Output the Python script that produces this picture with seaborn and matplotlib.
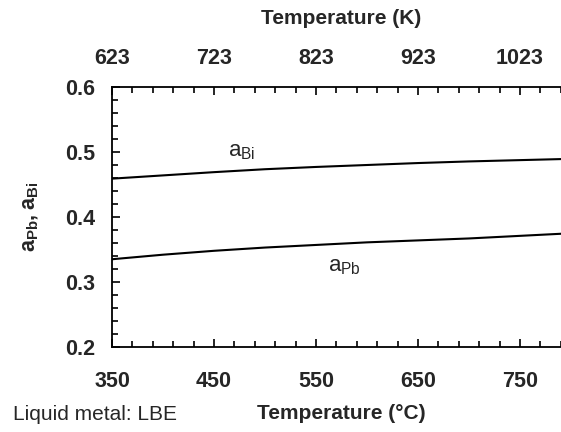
import matplotlib
matplotlib.use("Agg")
import matplotlib.pyplot as plt
from matplotlib.ticker import FixedLocator, MultipleLocator
import numpy as np
import pandas as pd
import seaborn as sns

# Activities of Pb and Bi in liquid LBE versus temperature
temp_c = [350, 400, 450, 500, 550, 600, 650, 700, 750, 800]
a_bi = [0.459, 0.464, 0.469, 0.4735, 0.477, 0.480, 0.483, 0.4855, 0.4875, 0.4895]
a_pb = [0.335, 0.342, 0.348, 0.353, 0.357, 0.361, 0.364, 0.367, 0.371, 0.375]

celsius_ticks = [350, 450, 550, 650, 750]
kelvin_ticks = [623, 723, 823, 923, 1023]
y_ticks = [0.2, 0.3, 0.4, 0.5, 0.6]

df = pd.DataFrame({
    "T": temp_c * 2,
    "a": a_bi + a_pb,
    "species": ["Bi"] * len(temp_c) + ["Pb"] * len(temp_c),
})

sns.set_style("ticks")
plt.rcParams["font.family"] = ["Liberation Sans", "DejaVu Sans"]
plt.rcParams["mathtext.fontset"] = "custom"
plt.rcParams["mathtext.rm"] = "Liberation Sans"

fig = plt.figure(figsize=(5.61, 4.32), dpi=100)
ax = fig.add_axes([112 / 561, 85 / 432, 459 / 561, 260 / 432])

sns.lineplot(data=df, x="T", y="a", units="species", estimator=None,
             color="black", linewidth=1.5, legend=False, ax=ax)

ax.set_xlim(350, 800)
ax.set_ylim(0.2, 0.6)

for side in ["left", "bottom", "top"]:
    ax.spines[side].set_visible(True)
    ax.spines[side].set_color("black")
    ax.spines[side].set_linewidth(1.3)
ax.spines["right"].set_visible(False)

# minor ticks every 20 degrees, counted from the first major tick
ax.xaxis.set_major_locator(FixedLocator(celsius_ticks))
ax.xaxis.set_minor_locator(FixedLocator(list(np.arange(350, 801, 20))))
ax.yaxis.set_major_locator(FixedLocator(y_ticks))
ax.yaxis.set_minor_locator(MultipleLocator(0.02))
ax.set_yticklabels([f"{v:.1f}" for v in y_ticks])

ax.tick_params(axis="both", which="both", direction="in", color="black", width=1.2)
ax.tick_params(axis="both", which="major", length=6)
ax.tick_params(axis="both", which="minor", length=4)
ax.tick_params(axis="x", which="major", pad=17)
ax.tick_params(axis="y", which="major", pad=12)
for lab in ax.get_xticklabels() + ax.get_yticklabels():
    lab.set_fontsize(15.5)
    lab.set_fontweight("bold")

# Kelvin scale on the top axis
top = ax.secondary_xaxis("top", functions=(lambda c: c + 273.0, lambda k: k - 273.0))
top.xaxis.set_major_locator(FixedLocator(kelvin_ticks))
top.xaxis.set_minor_locator(FixedLocator(list(np.arange(623, 1100, 20))))
top.tick_params(axis="x", which="both", direction="in", color="black", width=1.2)
top.tick_params(axis="x", which="major", length=6, pad=13)
top.tick_params(axis="x", which="minor", length=4)
top.spines["top"].set_visible(False)
for lab in top.get_xticklabels():
    lab.set_fontsize(15.5)
    lab.set_fontweight("bold")

ax.set_xlabel("Temperature (°C)", fontsize=15, fontweight="bold", va="center")
ax.xaxis.set_label_coords(0.5, -0.254)
top.set_xlabel("Temperature (K)", fontsize=15, fontweight="bold", va="center")
top.xaxis.set_label_coords(0.5, 1.262, transform=ax.transAxes)
ax.set_ylabel(r"$\mathregular{a_{Pb}, a_{Bi}}$", fontsize=15.5, fontweight="bold", va="center")
ax.yaxis.set_label_coords(-0.178, 0.5)

ax.text(464, 0.493, r"$\mathregular{a_{Bi}}$", fontsize=16, ha="left", va="baseline")
ax.text(562, 0.316, r"$\mathregular{a_{Pb}}$", fontsize=16, ha="left", va="baseline")

fig.text(13 / 561, 1 - 415 / 432, "Liquid metal: LBE", fontsize=15, ha="left", va="center")

fig.savefig("out.png", dpi=100)
